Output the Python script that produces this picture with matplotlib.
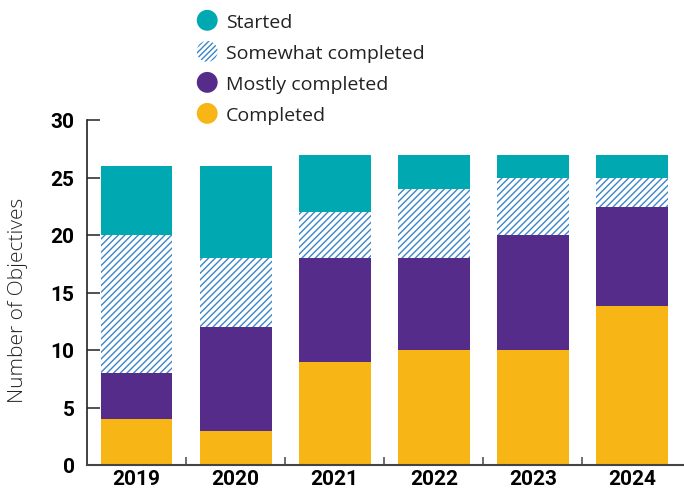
import matplotlib
matplotlib.use("Agg")
import matplotlib.pyplot as plt
import numpy as np
from matplotlib.patches import Ellipse, Patch
from matplotlib.legend_handler import HandlerPatch

years = ["2019", "2020", "2021", "2022", "2023", "2024"]
completed = [4, 3, 9, 10, 10, 13.8]
mostly = [4, 9, 9, 8, 10, 8.6]
somewhat = [12, 6, 4, 6, 5, 2.6]
started = [6, 8, 5, 3, 2, 2.0]
yticks = [0, 5, 10, 15, 20, 25, 30]

C_START = "#00A9B2"
C_MOST = "#562C8A"
C_COMP = "#F8B616"
C_HATCH = "#3A86C8"

plt.rcParams["hatch.linewidth"] = 1.0
plt.rcParams["hatch.color"] = C_HATCH

TICKFONT = ["Roboto", "DejaVu Sans"]

fig = plt.figure(figsize=(6.84, 4.89), dpi=100)
ax = fig.add_axes([87/684, 1-466/489, 1-87/684, (466-121)/489])

x = np.arange(len(years))
w = 0.724
comp = np.array(completed); most = np.array(mostly); some = np.array(somewhat); st = np.array(started)
ax.bar(x, comp, w, color=C_COMP, linewidth=0)
ax.bar(x, most, w, bottom=comp, color=C_MOST, linewidth=0)
ax.bar(x, some, w, bottom=comp+most, facecolor="white", edgecolor=C_HATCH, hatch="/////", linewidth=0)
ax.bar(x, st, w, bottom=comp+most+some, color=C_START, linewidth=0)

ax.set_xlim(-0.5, 5.525)
ax.set_ylim(0, 30)
ax.set_yticks(yticks)
ax.set_yticklabels([str(t) for t in yticks], fontsize=15, fontweight="bold", family=TICKFONT)
ax.set_xticks(x)
ax.set_xticklabels(years, fontsize=15, fontweight="bold", family=TICKFONT)
ax.tick_params(axis="x", length=0, pad=3)
ax.tick_params(axis="y", direction="in", length=9, width=1.2, color="#333333", pad=9)
ax.set_xticks(x[:-1] + 0.5, minor=True)
ax.tick_params(axis="x", which="minor", direction="in", length=6, width=1.2, color="#555555")
for s in ["top", "right"]:
    ax.spines[s].set_visible(False)
ax.spines["left"].set_color("#222222")
ax.spines["bottom"].set_color("#444444")
ax.spines["left"].set_linewidth(1.2)
ax.spines["bottom"].set_linewidth(1.5)

fig.text(18/684, 1-300/489, "Number of Objectives", rotation=90, ha="center", va="center",
         fontsize=15, family=["Open Sans", "DejaVu Sans"], fontweight="light", color="#222222")

class HandlerCircle(HandlerPatch):
    def create_artists(self, legend, orig_handle, xdescent, ydescent, width, height, fontsize, trans):
        r = min(width, height) * 0.6
        c = Ellipse((width/2 - xdescent, height/2 - ydescent), r*2, r*2)
        self.update_prop(c, orig_handle, legend)
        c.set_transform(trans)
        return [c]

handles = [
    Patch(facecolor=C_START, edgecolor="none"),
    Patch(facecolor="white", edgecolor=C_HATCH, hatch="//////", linewidth=0),
    Patch(facecolor=C_MOST, edgecolor="none"),
    Patch(facecolor=C_COMP, edgecolor="none"),
]
labels = ["Started", "Somewhat completed", "Mostly completed", "Completed"]
leg = fig.legend(handles, labels, loc="upper left", bbox_to_anchor=(180/684, 1.01),
                 frameon=False, handler_map={Patch: HandlerCircle()},
                 handlelength=1.0, handleheight=1.0, handletextpad=0.45, labelspacing=0.6,
                 prop={"family": ["Open Sans", "DejaVu Sans"], "size": 14})
for t in leg.get_texts():
    t.set_color("#222222")

fig.savefig("out.png", dpi=100)
